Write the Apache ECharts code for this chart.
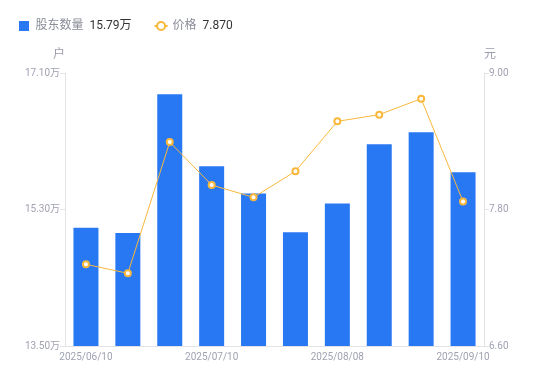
<!DOCTYPE html>
<html><head><meta charset="utf-8">
<script src="https://cdn.jsdelivr.net/npm/echarts@6/dist/echarts.min.js"></script>
<style>html,body{margin:0;padding:0;background:#fff}#c{width:550px;height:381px}</style>
</head><body><div id="c"></div>
<script>
const categories = ['2025/06/10','2025/06/20','2025/06/30','2025/07/10','2025/07/20','2025/07/31','2025/08/08','2025/08/20','2025/08/29','2025/09/10'];
const holders = [15.06, 14.99, 16.82, 15.87, 15.51, 15.00, 15.38, 16.16, 16.32, 15.79];
const prices = [7.318, 7.239, 8.393, 8.015, 7.907, 8.136, 8.575, 8.634, 8.774, 7.870];
const leftTicks = [13.5, 15.3, 17.1];
const rightTicks = [6.6, 7.8, 9.0];

const chart = echarts.init(document.getElementById('c'));
const font = 'Roboto, "Noto Sans CJK SC", sans-serif';
chart.setOption({
  animation: false,
  textStyle: { fontFamily: font },
  legend: {
    left: 14, top: 15, itemGap: 22, itemWidth: 13, itemHeight: 10,
    symbolKeepAspect: true,
    data: [
      { name: '股东数量', icon: 'path://M0,0H10V10H0Z' },
      { name: '价格' }
    ],
    formatter: function (n) {
      if (n === '股东数量') return '{n|' + n + '}  {v|' + holders[holders.length - 1].toFixed(2) + '万}';
      return '{n|' + n + '}  {v|' + prices[prices.length - 1].toFixed(3) + '}';
    },
    textStyle: {
      fontFamily: font,
      rich: {
        n: { color: '#8a8d99', fontSize: 12, fontFamily: font },
        v: { color: '#333', fontSize: 12, fontFamily: font }
      }
    }
  },
  grid: { left: 65, right: 66, top: 73, bottom: 35 },
  xAxis: {
    type: 'category', data: categories,
    axisLine: { lineStyle: { color: '#e3e3e6' } },
    axisTick: { show: false },
    axisLabel: { color: '#a0a2b2', fontSize: 10, interval: 2, margin: 6, fontFamily: font }
  },
  yAxis: [
    {
      type: 'value', name: '户', min: leftTicks[0], max: leftTicks[2], interval: leftTicks[1] - leftTicks[0],
      nameTextStyle: { color: '#9a9cab', fontSize: 12, align: 'right' },
      nameGap: 12,
      axisLine: { show: true, lineStyle: { color: '#e3e3e6' } },
      axisTick: { show: true, length: 5, lineStyle: { color: '#e3e3e6' } },
      splitLine: { show: false },
      axisLabel: { color: '#a0a2b2', fontSize: 10, margin: 5, formatter: v => v.toFixed(2) + '万', fontFamily: font }
    },
    {
      type: 'value', name: '元', min: rightTicks[0], max: rightTicks[2], interval: rightTicks[1] - rightTicks[0],
      nameTextStyle: { color: '#9a9cab', fontSize: 12, align: 'left' },
      nameGap: 12,
      axisLine: { show: true, lineStyle: { color: '#e3e3e6' } },
      axisTick: { show: true, length: 5, lineStyle: { color: '#e3e3e6' } },
      splitLine: { show: false },
      axisLabel: { color: '#a0a2b2', fontSize: 10, margin: 5, formatter: v => v.toFixed(2), fontFamily: font }
    }
  ],
  series: [
    {
      name: '股东数量', type: 'bar', data: holders, yAxisIndex: 0, barWidth: 25,
      itemStyle: { color: '#2878f3' }
    },
    {
      name: '价格', type: 'line', data: prices, yAxisIndex: 1,
      symbol: 'emptyCircle', symbolSize: 6,
      lineStyle: { color: '#f9b83c', width: 1 },
      itemStyle: { color: '#f9b83c', borderWidth: 2 }
    }
  ]
});
</script></body></html>
